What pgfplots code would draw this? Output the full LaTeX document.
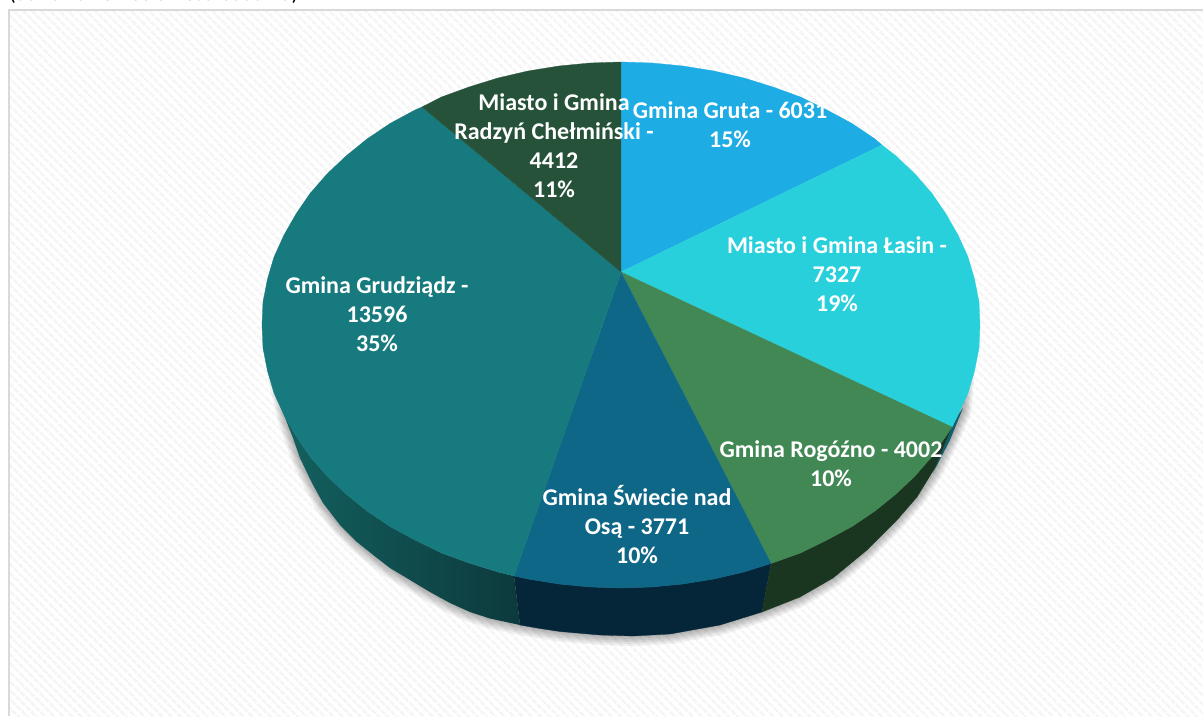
\documentclass[border=0pt]{standalone}
\usepackage{fontspec}
\usepackage{pgfplots}
\usepackage{pgfplotstable}
\pgfplotsset{compat=1.18}
\usetikzlibrary{patterns.meta}
\setmainfont{Carlito}
\definecolor{SliceSky}{HTML}{1EACE4}
\definecolor{SliceCyan}{HTML}{28D0DC}
\definecolor{SliceGreen}{HTML}{428855}
\definecolor{SliceBlue}{HTML}{0F6788}
\definecolor{SliceTeal}{HTML}{177A7E}
\definecolor{SliceDark}{HTML}{27523A}
\definecolor{SideTealA}{HTML}{13605F}
\definecolor{SideTealB}{HTML}{0D393C}
\definecolor{SideBlue}{HTML}{052638}
\definecolor{SideGreen}{HTML}{1B3620}
\definecolor{SideCyan}{HTML}{0F5F6D}
\definecolor{Stripe}{HTML}{F5F5F5}
\definecolor{Frame}{HTML}{D9D9D9}

% outer edge of the pie, for the soft shadow
\pgfplotstableread{
x y
276 345
276 375
286 418
293 438
300 458
312 483
323 503
340 525
357 542
377 558
390 568
410 580
430 592
450 603
470 612
490 618.5
520 625
540 628.5
560 631.5
600 635
633 636
670 634
720 625
762 612
800 597
833 578
867 550
897 520
917 497
933 473
950 440
963 410
966 375
966 345
}\outerEdge

\newcommand{\lab}[3]{\node[text=white,font=\fontsize{24}{29}\selectfont\bfseries,align=center,inner sep=0pt] at (axis cs:#1,#2) {#3};}

\begin{document}
\begin{tikzpicture}
\path[use as bounding box,clip] (0,0) rectangle (1203pt,716pt);
\begin{axis}[at={(0,0)},anchor=south west,scale only axis,width=1203pt,height=716pt,
xmin=0,xmax=1203,ymin=0,ymax=716,y dir=reverse,hide axis]

% panel
\addplot[fill=white,draw=none] coordinates {(9,10)(1203,10)(1203,716)(9,716)};
\addplot[draw=none,pattern={Lines[angle=-45,distance=6.5pt,line width=3pt]},pattern color=Stripe] coordinates {(10,11)(1203,11)(1203,716)(10,716)};
\addplot[draw=Frame,line width=2pt] coordinates {(9,716)(9,10)(1203,10)};

% shadow
\pgfplotsinvokeforeach{1.004,1.009,1.014,1.019,1.024,1.03}{
\addplot[fill=black,fill opacity=.055,draw=none] table[x expr={621+(\thisrow{x}-621)*(1+(#1-1)*.8)},y expr={300+(\thisrow{y}-300)*#1}] {\outerEdge};
}

% sides
\addplot[left color=SideTealA,right color=SideTealB,draw=none] coordinates {(284,415)(296,436)(310,456.5)(327,476)(346,494)(367,511)(390,526.5)(415,540)(441.5,553)(469,563)(498,572)(514,576)(520,625)(490,618.5)(470,612)(450,603)(430,592)(410,580)(390,568)(377,558)(357,542)(340,525)(323,503)(312,483)(300,458)(293,438)};
\addplot[fill=SideBlue,draw=SideBlue,line width=.3pt] coordinates {(514,576)(528,579)(559,584)(590,587)(621,588)(652,587)(683,584)(714,579)(744,572)(771,563.5)(762,612)(720,625)(670,634)(633,636)(600,635)(560,631.5)(540,628.5)(520,625)};
\addplot[fill=SideGreen,draw=SideGreen,line width=.3pt] coordinates {(771,563.5)(800.5,553)(827,540)(852,526.5)(875,511)(896,494)(915,476)(932,456.5)(946,436)(952,427)(936,466)(917,497)(897,520)(867,550)(833,578)(800,597)(762,612)};
\addplot[fill=SideCyan,draw=none] coordinates {(952,427)(958,415)(963,408)(950,440)(933,473)(936,466)};

% top face
\addplot[fill=SliceSky,draw=SliceSky,line width=.3pt] coordinates {(621,272)(621,62)(652,63)(683,66)(714,71)(744,78)(773,87)(800.5,97)(827,110)(852,123.5)(875,139)(882,145)};
\addplot[fill=SliceCyan,draw=SliceCyan,line width=.3pt] coordinates {(621,272)(882,145)(896,156)(915,174)(932,193.5)(946,214)(958,235)(968,257)(974.5,279)(979,302)(980,325)(979,348)(974.5,371)(968,393)(958,415)(952,427)};
\addplot[fill=SliceGreen,draw=SliceGreen,line width=.3pt] coordinates {(621,272)(952,427)(946,436)(932,456.5)(915,476)(896,494)(875,511)(852,526.5)(827,540)(800.5,553)(771,563.5)};
\addplot[fill=SliceBlue,draw=SliceBlue,line width=.3pt] coordinates {(621,272)(771,563.5)(744,572)(714,579)(683,584)(652,587)(621,588)(590,587)(559,584)(528,579)(514,576)};
\addplot[fill=SliceTeal,draw=SliceTeal,line width=.3pt] coordinates {(621,272)(514,576)(498,572)(469,563)(441.5,553)(415,540)(390,526.5)(367,511)(346,494)(327,476)(310,456.5)(296,436)(284,415)(274,393)(267.5,371)(263,348)(262,325)(263,302)(267.5,279)(274,257)(284,235)(296,214)(310,193.5)(327,174)(346,156)(367,139)(390,123.5)(415,110)(422,107)};
\addplot[fill=SliceDark,draw=SliceDark,line width=.3pt] coordinates {(621,272)(422,107)(441.5,97)(469,87)(498,78)(528,71)(559,66)(590,63)(621,62)};

% labels
\lab{554}{146}{Miasto i Gmina\\Radzyń Chełmiński -\\4412\\11\%}
\lab{730}{125}{Gmina Gruta - 6031\\15\%}
\lab{837}{274}{Miasto i Gmina Łasin -\\7327\\19\%}
\lab{831}{464}{Gmina Rogóźno - 4002\\10\%}
\lab{637}{525}{Gmina Świecie nad\\Osą - 3771\\10\%}
\lab{377}{314}{Gmina Grudziądz -\\13596\\35\%}
\node[anchor=base west,inner sep=0pt,font=\fontsize{22}{26}\selectfont] at (axis cs:9,0) {(dane na koniec okresu badania)};
\end{axis}
\end{tikzpicture}
\end{document}
